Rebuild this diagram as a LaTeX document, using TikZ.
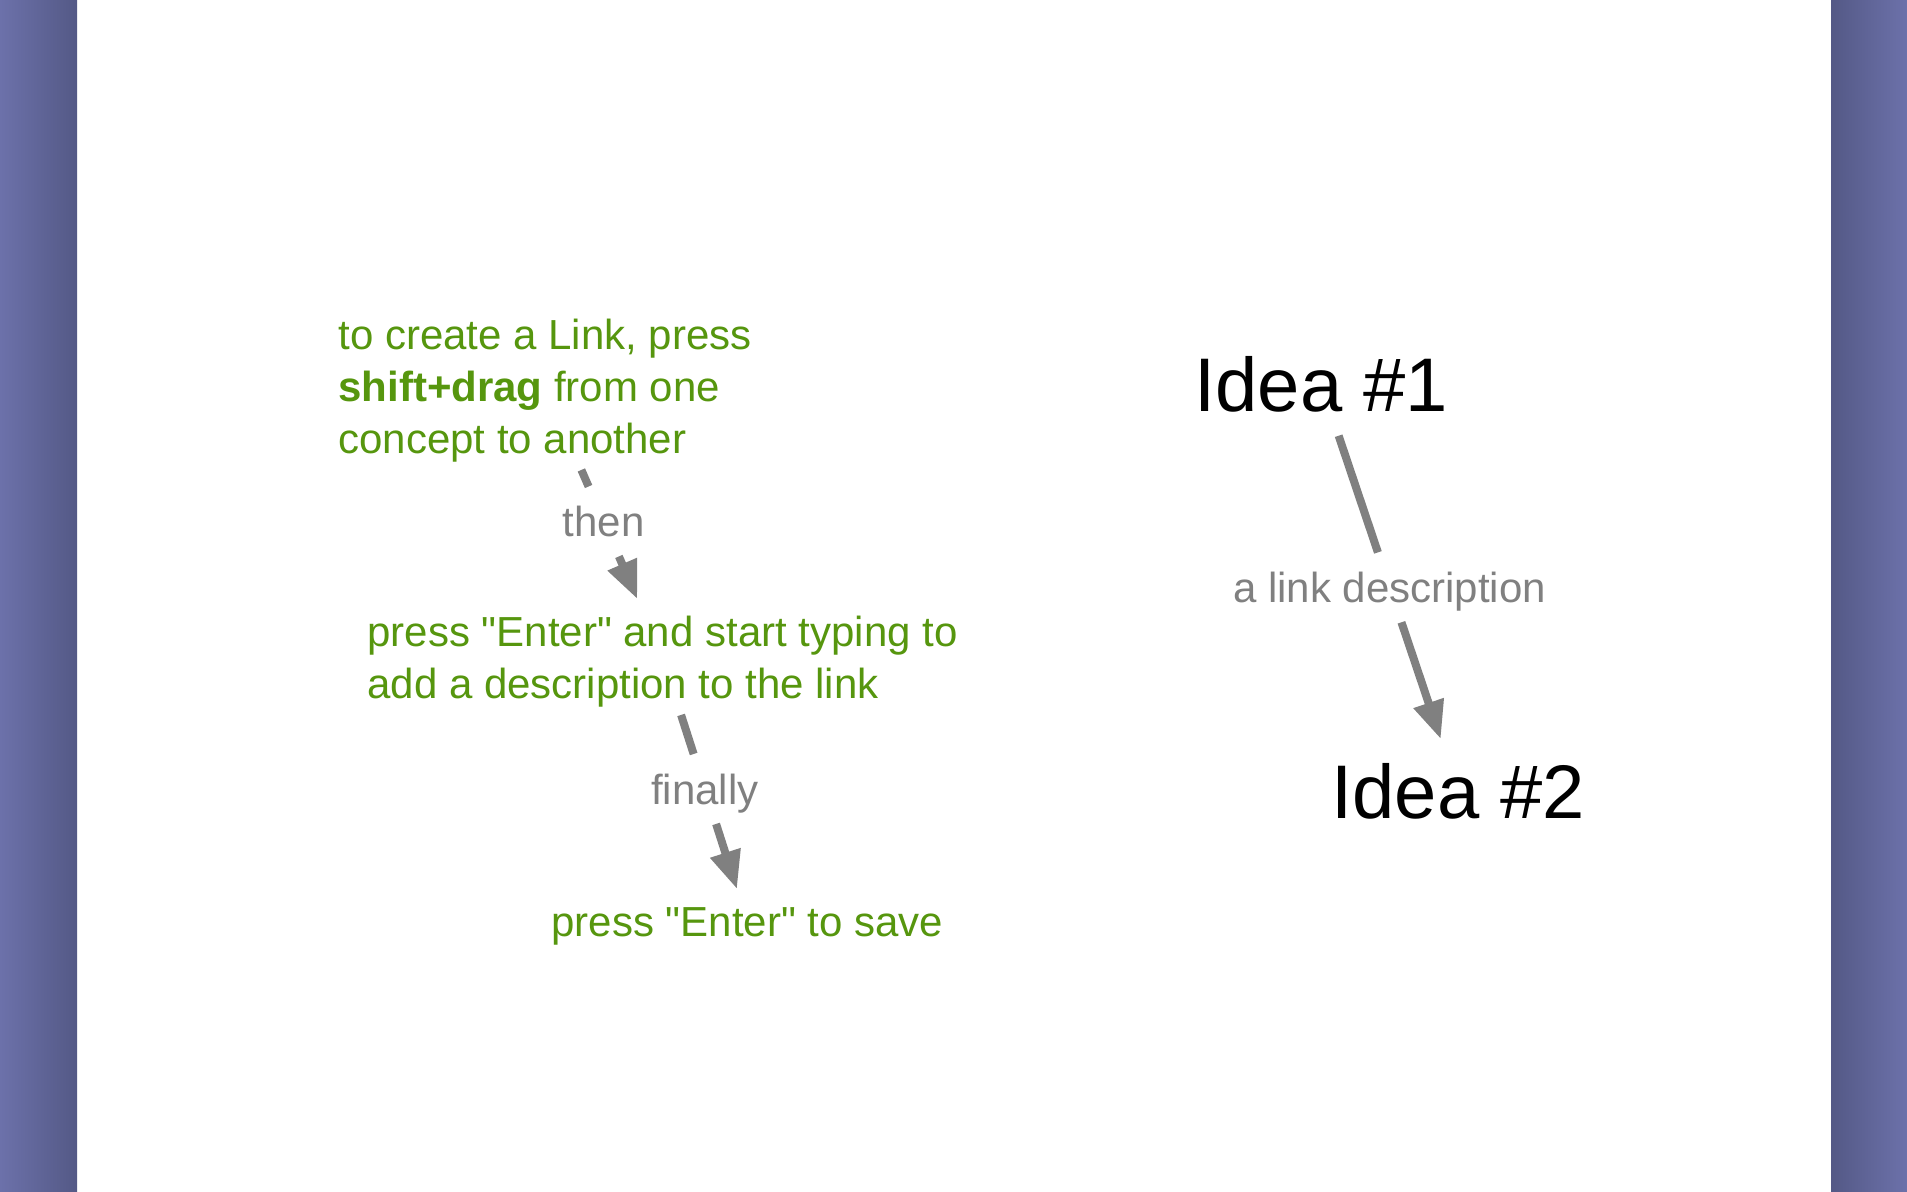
\documentclass[tikz,border=0pt]{standalone}
\usepackage{fontspec}
\setmainfont{Liberation Sans}
\usetikzlibrary{arrows.meta,calc}
\definecolor{leafgreen}{RGB}{86,150,14}
\definecolor{linkgray}{RGB}{128,128,128}
\definecolor{pagelight}{RGB}{108,113,170}
\definecolor{pagedark}{RGB}{84,89,134}
\newcommand\lnstrut{\rule[-.22em]{0pt}{1.17em}}
\newcommand\qt{\textquotedbl}
\begin{document}
\begin{tikzpicture}[
    x=0.5pt, y=-0.5pt,
    hint/.style={anchor=north west, align=left, inner sep=3.5pt, text=leafgreen,
                 font=\fontsize{21pt}{26pt}\selectfont,
                 execute at end node=\lnstrut},
    idea/.style={anchor=north west, inner sep=3.5pt, text=black,
                 font=\fontsize{38pt}{45pt}\selectfont,
                 execute at begin node=\lnstrut},
    lbl/.style={fill=white, inner sep=5pt, text=linkgray,
                font=\fontsize{21pt}{26pt}\selectfont,
                execute at begin node=\lnstrut},
    link/.style={line width=4pt, draw=linkgray},
    tip/.style={link, -{Triangle[length=19pt,width=15pt]}, fill=linkgray}
  ]
  \useasboundingbox (0,0) rectangle (1907,1192);
  % Page and side bars
  \fill[white] (0,0) rectangle (1907,1192);
  \shade[left color=pagelight, right color=pagedark] (0,0) rectangle (77,1192);
  \shade[left color=pagedark, right color=pagelight] (1831,0) rectangle (1907,1192);
  % Hints on the left
  \node[hint] (create) at (331,302)
    {\lnstrut to create a Link, press\\\textbf{shift+drag} from one\\concept to another};
  \node[hint] (enter) at (360,599)
    {\lnstrut press \qt Enter\qt{} and start typing to\\add a description to the link};
  \node[hint] (save) at (544,889) {\lnstrut press \qt Enter\qt{} to save};
  % Sample concepts
  \node[idea] (idea1) at (1187,332) {Idea \#1};
  \node[idea] (idea2) at (1324,739) {Idea \#2};
  % Link labels
  \node[lbl] (then) at ($(create)!.5!(enter)$) {then};
  \node[lbl] (finally) at ($(enter)!.5!(save)$) {finally};
  \node[lbl] (desc) at ($(idea1)!.5!(idea2)$) {a link description};
  % Links
  \draw[link] (create) -- (then);
  \draw[tip] (then) -- (enter);
  \draw[link] (enter) -- (finally);
  \draw[tip] (finally) -- (save);
  \draw[link] (idea1) -- (desc);
  \draw[tip] (desc) -- (idea2);
\end{tikzpicture}
\end{document}
